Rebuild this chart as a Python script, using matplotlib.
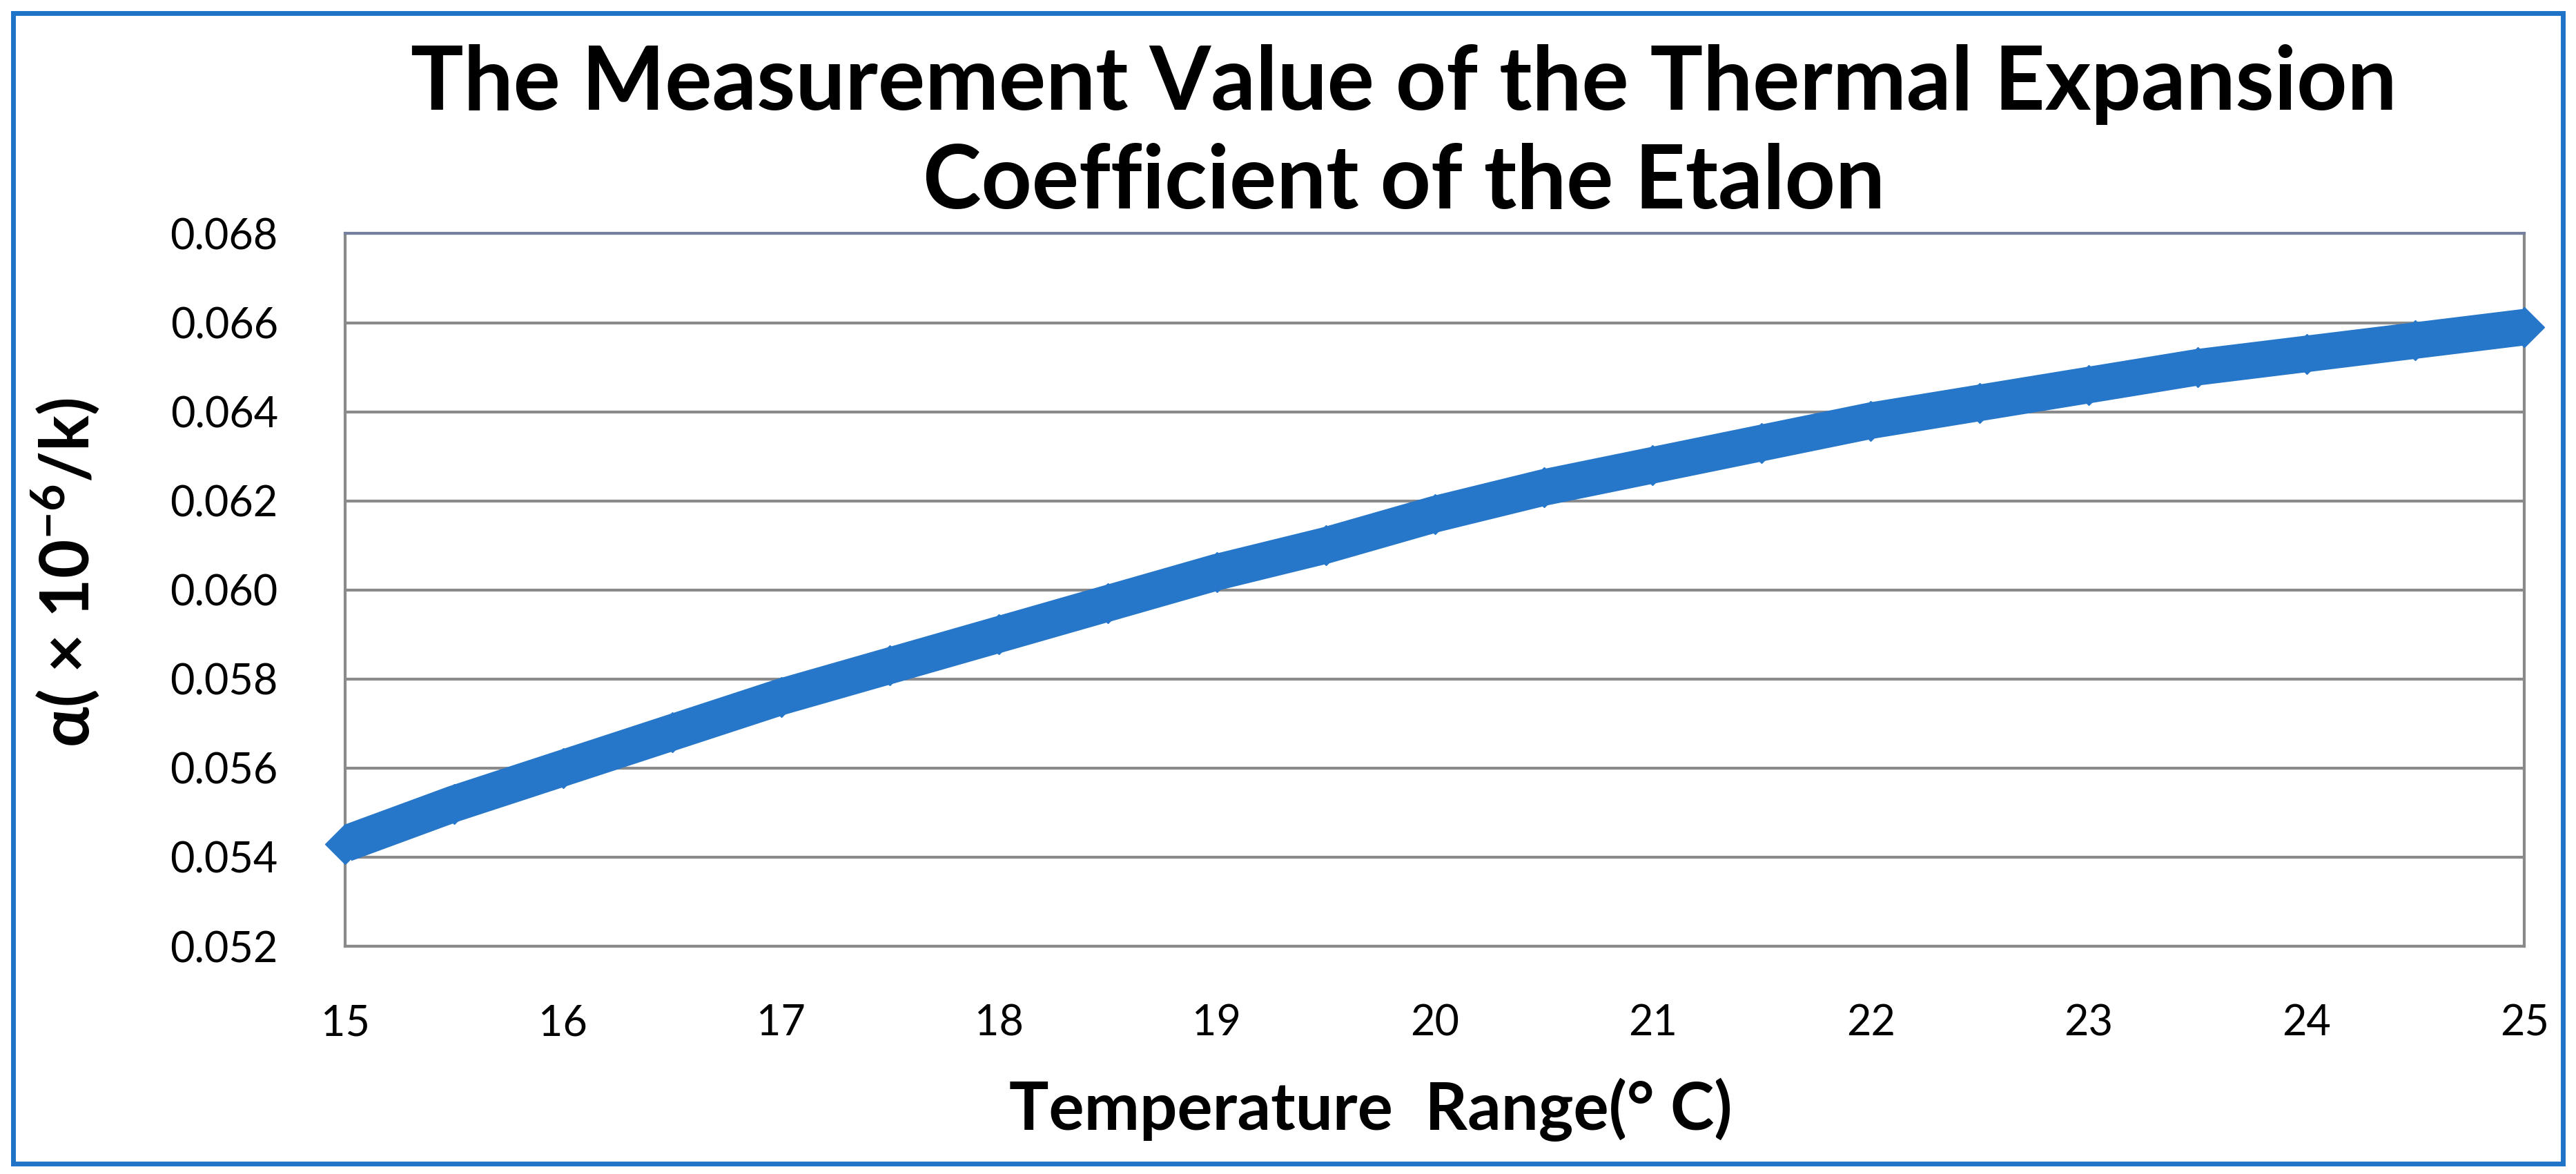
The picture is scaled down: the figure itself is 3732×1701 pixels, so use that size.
import numpy as np
import matplotlib
matplotlib.use('Agg')
import matplotlib.pyplot as plt
from matplotlib.patches import Rectangle

plt.rcParams['font.family'] = ['Lato', 'DejaVu Sans']
plt.rcParams['mathtext.fontset'] = 'custom'
plt.rcParams['mathtext.rm'] = 'Lato'
plt.rcParams['mathtext.bf'] = 'Lato:bold'
plt.rcParams['mathtext.default'] = 'bf'

# values
temps = [15.0, 15.5, 16.0, 16.5, 17.0, 17.5, 18.0, 18.5, 19.0, 19.5, 20.0,
         20.5, 21.0, 21.5, 22.0, 22.5, 23.0, 23.5, 24.0, 24.5, 25.0]
alpha = [0.0543, 0.0552, 0.0560, 0.0568, 0.0576, 0.0583, 0.0590, 0.0597,
         0.0604, 0.0610, 0.0617, 0.0623, 0.0628, 0.0633, 0.0638, 0.0642,
         0.0646, 0.0650, 0.0653, 0.0656, 0.0659]
xticks = [15, 16, 17, 18, 19, 20, 21, 22, 23, 24, 25]
yticks = [0.052, 0.054, 0.056, 0.058, 0.060, 0.062, 0.064, 0.066, 0.068]

title = 'The Measurement Value of the Thermal Expansion\nCoefficient of the Etalon'
xlabel = 'Temperature  Range(\u00b0 C)'
ylabel = '\u03b1( \u00d7 10$^{-6}$/k)'

blue = '#2677c9'
grid_c = '#8a8a8a'

fig = plt.figure(figsize=(37.32, 17.01), dpi=100)
ax = fig.add_axes([0.134, 0.194, 0.846, 0.607])

ax.plot(temps, alpha, color=blue, lw=38, solid_capstyle='butt', solid_joinstyle='round', zorder=3)
ax.plot(temps, alpha, ls='none', marker='D', ms=30, color=blue, mec=blue, zorder=3, clip_on=False)

ax.set_xlim(15, 25)
ax.set_ylim(0.052, 0.068)
ax.set_xticks(xticks)
ax.set_yticks(yticks)
ax.set_yticklabels(['%.3f' % v for v in yticks])
ax.yaxis.grid(True, color=grid_c, lw=3)
ax.set_axisbelow(True)
ax.tick_params(length=0, labelsize=44, colors='black')
ax.tick_params(axis='y', pad=70)
ax.tick_params(axis='x', pad=60)
for s in ['left', 'right', 'bottom']:
	ax.spines[s].set_color(grid_c)
	ax.spines[s].set_linewidth(3)
ax.spines['top'].set_color('#74809e')
ax.spines['top'].set_linewidth(3)

fig.text(0.545, 0.886, title, ha='center', va='center', fontsize=92, fontweight='bold', linespacing=1.28)
fig.text(0.532, 0.055, xlabel, ha='center', va='center', fontsize=69, fontweight='bold')
fig.text(0.0255, 0.512, ylabel, ha='center', va='center', fontsize=70, fontweight='bold', rotation=90)

fig.patches.append(Rectangle((0.005, 0.009), 0.99, 0.98, transform=fig.transFigure,
                             fill=False, ec='#1f74c8', lw=5))

fig.savefig('out.png', dpi=100)
